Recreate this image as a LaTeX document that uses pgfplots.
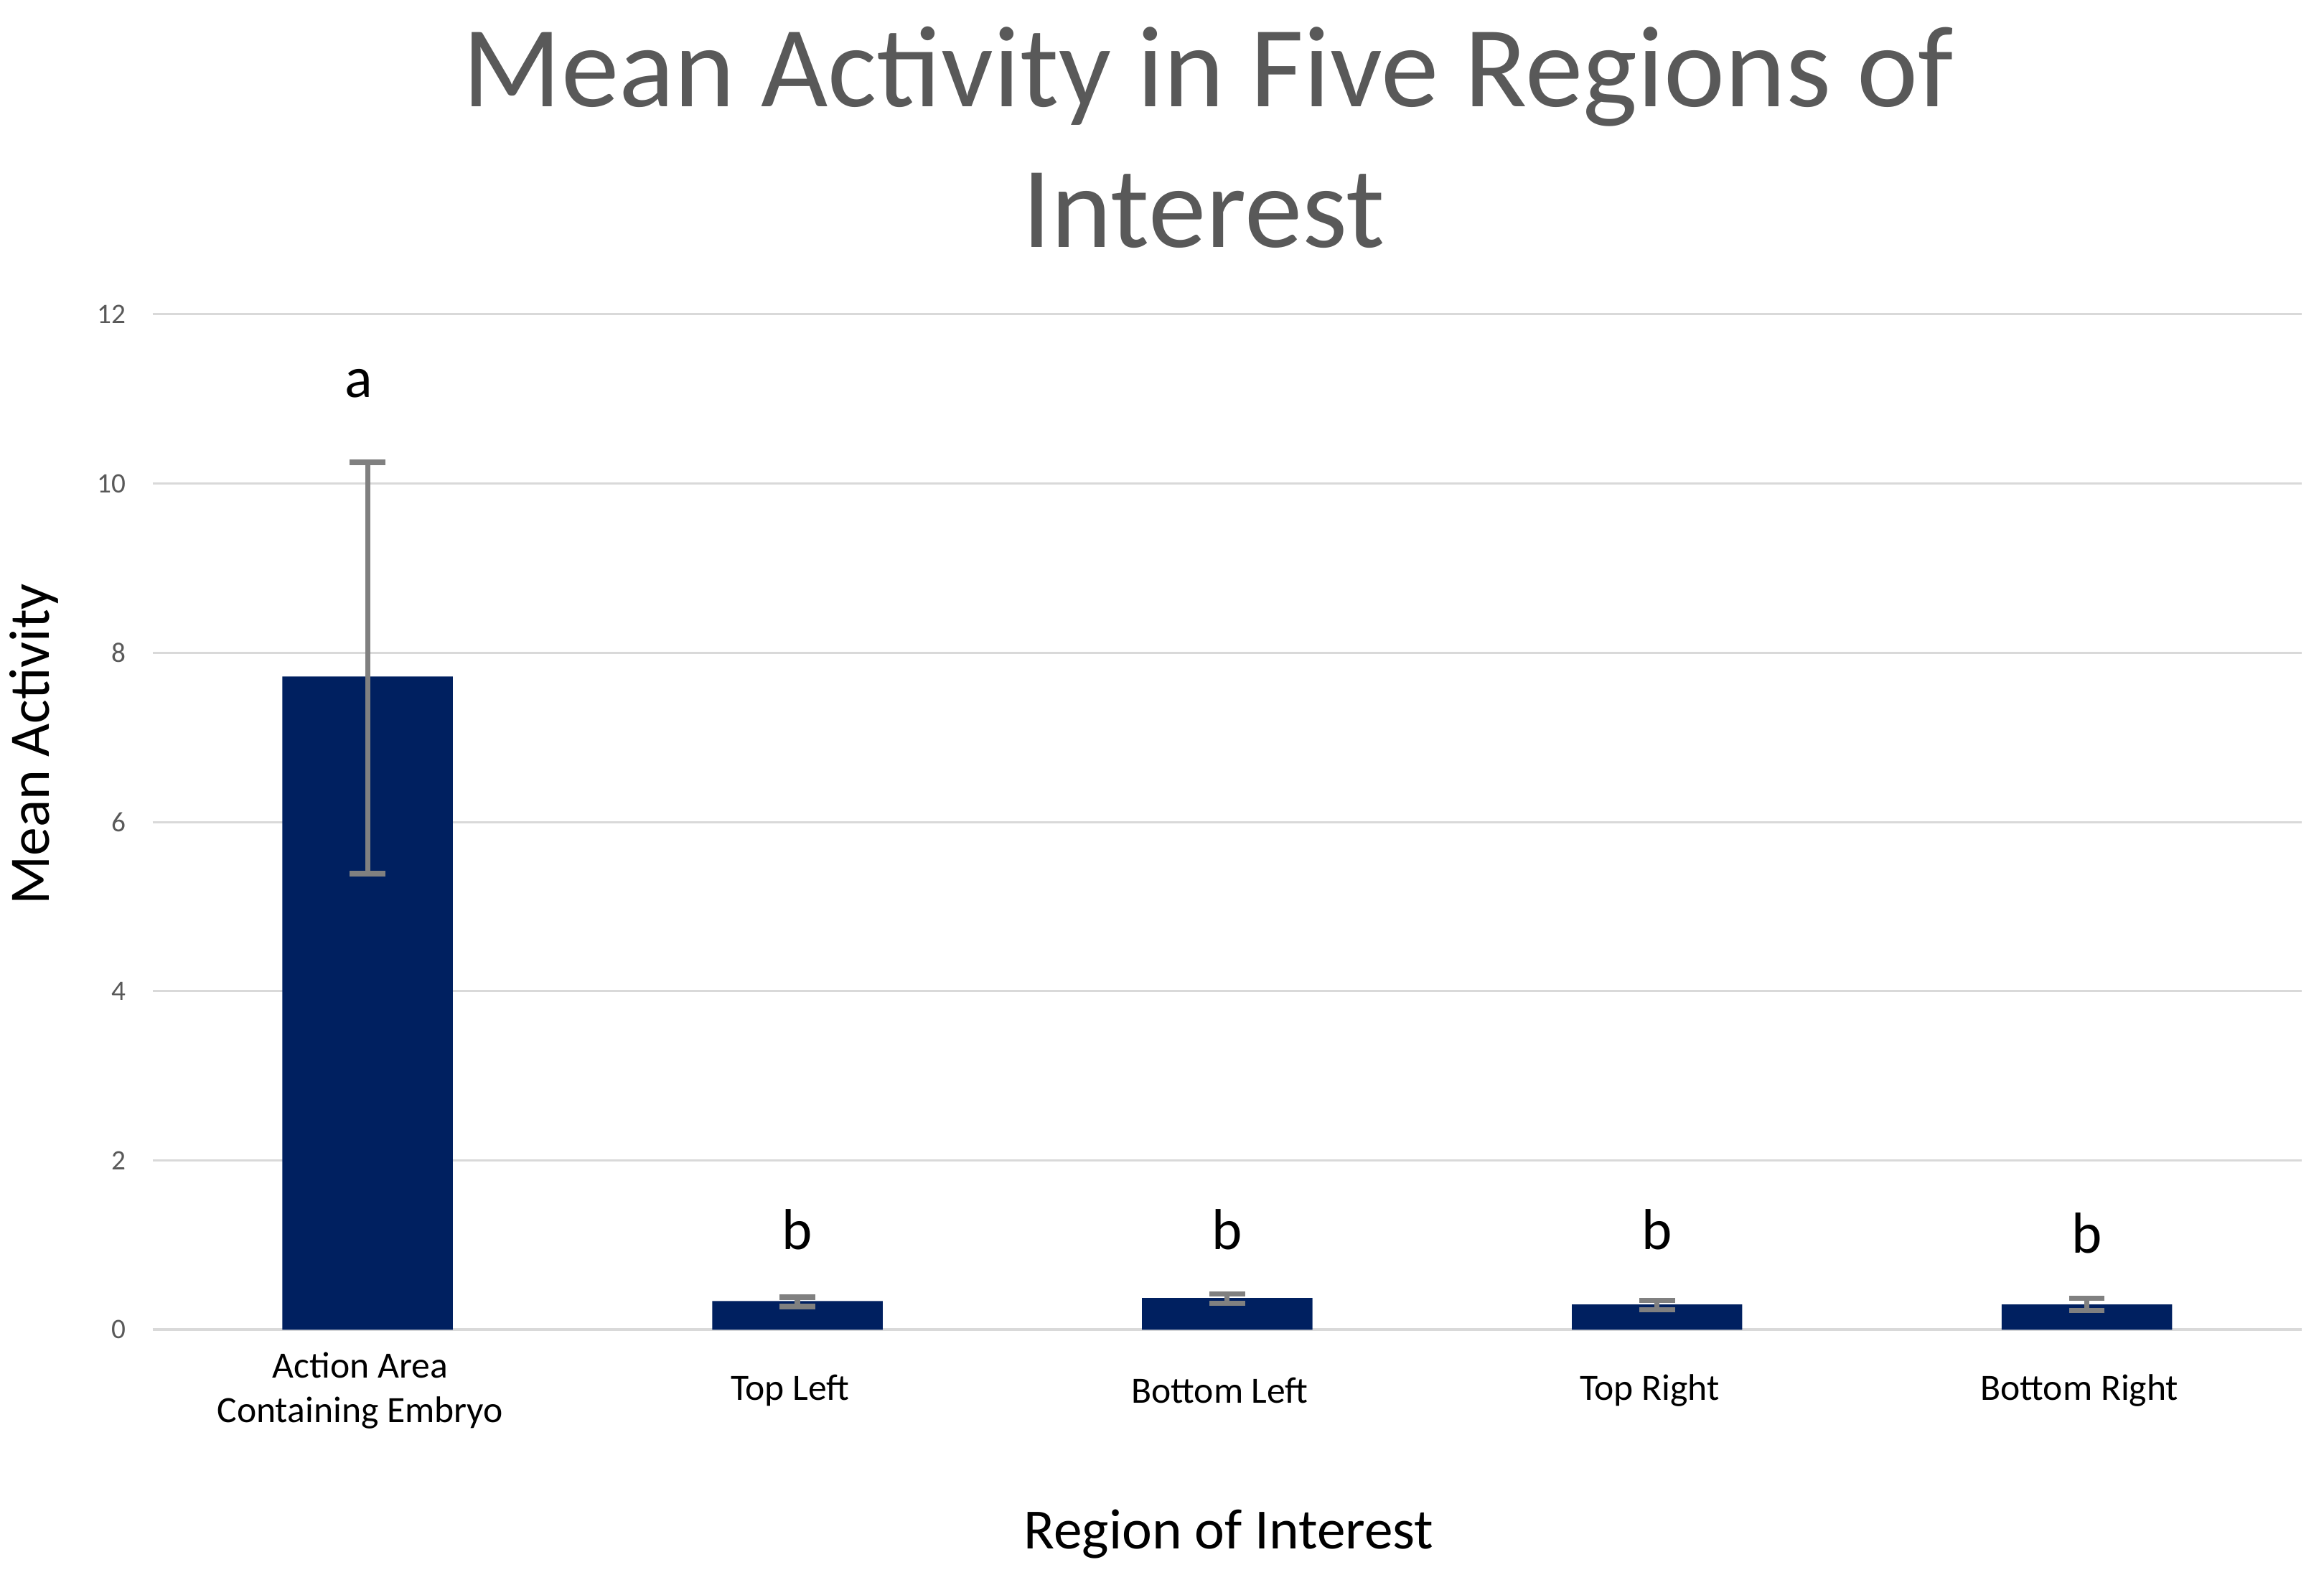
\documentclass[border=0pt]{standalone}
\usepackage{fontspec}
\setmainfont{Carlito}
\usepackage{pgfplots}
\pgfplotsset{compat=1.18}
\definecolor{barblue}{HTML}{002060}
\definecolor{errgray}{HTML}{808080}
\definecolor{gridgray}{HTML}{D9D9D9}
\definecolor{titlegray}{HTML}{595959}
\begin{document}
\begin{tikzpicture}
\path[use as bounding box] (0,0) rectangle (784pt,531pt);
\begin{axis}[
  at={(51.5pt,82.5pt)}, anchor=south west,
  scale only axis, width=725pt, height=342.5pt,
  xmin=-0.5, xmax=4.5, ymin=0, ymax=12,
  ytick={0,2,...,12},
  xtick={0,1,2,3,4},
  xticklabels={{Action Area\\Containing Embryo},Top Left,Bottom Left,Top Right,Bottom Right},
  xticklabel style={anchor=center, yshift=-20.5pt, xshift=-2.5pt, align=center, font=\fontsize{12.5}{15}\selectfont, text=black},
  yticklabel style={font=\fontsize{9.5}{11}\selectfont, text=titlegray, xshift=-5.5pt},
  /pgf/number format/assume math mode=true,
  ymajorgrids, major grid style={gridgray, line width=0.75pt},
  axis x line*=bottom, axis y line*=left,
  x axis line style={gridgray, line width=1pt, -},
  y axis line style={draw=none},
  major tick length=0pt,
]
\addplot[ybar, bar width=57.5pt, fill=barblue, draw=none,
  error bars/.cd, y dir=both, y explicit,
  error bar style={errgray, line width=1.75pt},
  error mark options={rotate=90, errgray, mark size=6pt, line width=1.75pt}]
  table[x=x, y=y, y error plus=ep, y error minus=em] {
x y ep em
0 7.72 2.53 2.33
1 0.34 0.045 0.065
2 0.375 0.045 0.065
3 0.30 0.045 0.065
4 0.30 0.07 0.07
};
\node[anchor=base, font=\fontsize{19.5}{23}\selectfont] at (axis cs:-0.02,11.02) {a};
\node[anchor=base, font=\fontsize{19.5}{23}\selectfont] at (axis cs:1,0.95) {b};
\node[anchor=base, font=\fontsize{19.5}{23}\selectfont] at (axis cs:2,0.95) {b};
\node[anchor=base, font=\fontsize{19.5}{23}\selectfont] at (axis cs:3,0.95) {b};
\node[anchor=base, font=\fontsize{19.5}{23}\selectfont] at (axis cs:4,0.91) {b};
\end{axis}
\node[anchor=base, font=\fontsize{39}{47}\selectfont, text=titlegray] at (407.5pt,495pt) {Mean Activity in Five Regions of};
\node[anchor=base, font=\fontsize{39}{47}\selectfont, text=titlegray] at (406pt,447.5pt) {Interest};
\node[rotate=90, anchor=base, font=\fontsize{19.3}{23}\selectfont] at (16.5pt,280pt) {Mean Activity};
\node[anchor=base, font=\fontsize{19.2}{23}\selectfont] at (414.5pt,8.5pt) {Region of Interest};
\end{tikzpicture}
\end{document}
